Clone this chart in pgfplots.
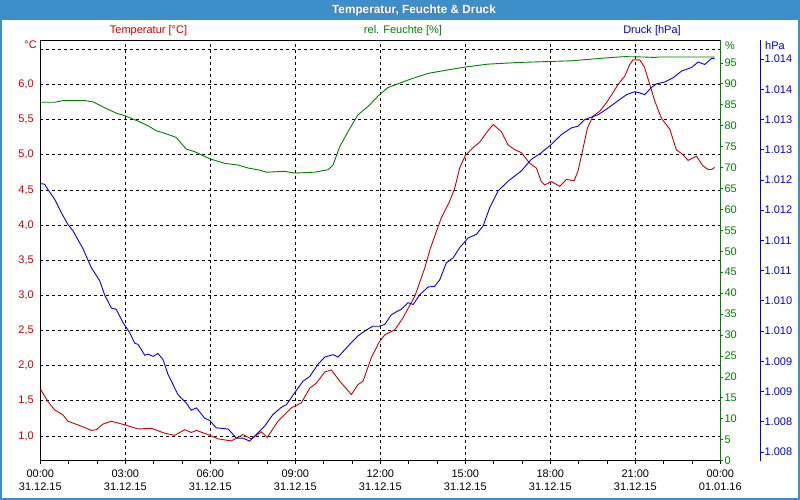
\documentclass[border=0pt]{standalone}
\usepackage{pgfplots}
\pgfplotsset{compat=1.18}
\usepackage{fontspec}
\setmainfont{Liberation Sans}
\definecolor{tred}{RGB}{204,0,0}
\definecolor{hgreen}{RGB}{0,128,0}
\definecolor{pblue}{RGB}{0,0,230}
\definecolor{barblue}{RGB}{60,143,200}
\begin{document}
\begin{tikzpicture}[x=1pt,y=1pt]
\useasboundingbox (0,0) rectangle (800,500);
\fill[white] (0,0) rectangle (800,500);
\fill[barblue] (0,480) rectangle (800,500);
\draw[barblue,line width=2pt] (1,1) rectangle (799,499);
\node[text=black!60,font=\fontsize{11.8}{13}\selectfont\bfseries] at (414.7,489.3) {Temperatur, Feuchte \& Druck};
\node[text=white,font=\fontsize{11.8}{13}\selectfont\bfseries] at (414,490) {Temperatur, Feuchte \& Druck};
\node[text=tred,font=\fontsize{11}{12}\selectfont] at (148.5,469) {Temperatur [°C]};
\node[text=hgreen,font=\fontsize{11}{12}\selectfont] at (403,469) {rel. Feuchte [\%]};
\node[text=pblue,font=\fontsize{11}{12}\selectfont] at (652,469) {Druck [hPa]};
\node[text=tred,font=\fontsize{11}{12}\selectfont,anchor=east,inner sep=0pt] at (37,455) {°C};
\node[text=hgreen,font=\fontsize{11}{12}\selectfont,anchor=west,inner sep=0pt] at (725,454) {\%};
\node[text=pblue,font=\fontsize{11}{12}\selectfont,anchor=west,inner sep=0pt] at (765,454) {hPa};

\pgfplotsset{base/.style={
  at={(40.3pt,39.3pt)}, anchor=south west, scale only axis,
  width=680pt, height=420.4pt, xmin=0, xmax=24,
  font=\fontsize{11}{12.5}\selectfont,
  /pgf/number format/assume math mode=true,
}}

% temperature axis
\begin{axis}[base, ymin=0.649, ymax=6.628,
  axis line style={black,line width=1pt},
  xtick={0,3,...,24}, minor xtick={1,2,4,5,7,8,10,11,13,14,16,17,19,20,22,23},
  xtick pos=bottom, ytick pos=left,
  tick align=outside, major tick length=3pt, minor tick length=3pt,
  every tick/.style={black,line width=0.8pt},
  xticklabels={{00:00\\31.12.15},{03:00\\31.12.15},{06:00\\31.12.15},{09:00\\31.12.15},{12:00\\31.12.15},{15:00\\31.12.15},{18:00\\31.12.15},{21:00\\31.12.15},{00:00\\01.01.16}},
  xticklabel style={align=center, text=black, yshift=-3pt},
  ytick={1,1.5,...,6.5},
  yticklabels={{1,0},{1,5},{2,0},{2,5},{3,0},{3,5},{4,0},{4,5},{5,0},{5,5},{6,0},{}},
  yticklabel style={text=tred},
  ytick style={draw=none},
  grid=major,
  major grid style={black,line width=0.8pt,dash pattern=on 3pt off 3pt},
]
\addplot[tred,line width=0.9pt] table {
0 1.67
0.27 1.49
0.51 1.37
0.80 1.30
0.98 1.21
1.45 1.14
1.80 1.08
1.98 1.09
2.21 1.17
2.51 1.21
2.98 1.16
3.45 1.10
3.92 1.11
4.39 1.04
4.74 1.01
5.10 1.09
5.33 1.05
5.51 1.08
5.92 1.02
6.27 0.96
6.74 0.93
7.15 1.02
7.45 0.96
7.80 1.06
8.01 0.98
8.39 1.21
8.86 1.40
9.21 1.47
9.51 1.68
9.74 1.75
10.04 1.91
10.27 1.94
10.57 1.78
10.98 1.59
11.21 1.73
11.39 1.78
11.68 2.11
11.95 2.33
12.16 2.44
12.51 2.51
12.80 2.68
13.22 2.99
13.57 3.39
13.76 3.66
14.15 4.10
14.45 4.34
14.63 4.53
14.80 4.81
15.00 4.99
15.27 5.10
15.51 5.18
15.74 5.31
15.98 5.43
16.27 5.33
16.51 5.14
16.75 5.07
16.98 5.03
17.27 4.88
17.51 4.81
17.68 4.62
17.80 4.57
18.04 4.62
18.33 4.55
18.57 4.65
18.84 4.63
18.98 4.77
19.16 5.10
19.31 5.38
19.51 5.55
19.75 5.62
19.98 5.74
20.16 5.85
20.39 6.00
20.63 6.12
20.80 6.28
20.92 6.35
21.16 6.35
21.33 6.24
21.51 6.00
21.69 5.76
21.92 5.52
22.22 5.36
22.45 5.07
22.69 5.00
22.86 4.92
23.16 4.98
23.39 4.84
23.57 4.79
23.69 4.79
23.80 4.82
};
\end{axis}

% humidity axis
\begin{axis}[base, ymin=0, ymax=100.4,
  axis x line=none, axis y line*=right,
  y axis line style={hgreen,line width=1pt},
  ytick={0,5,...,95}, tick align=outside, major tick length=3pt,
  ytick style={hgreen,line width=0.8pt},
  yticklabel style={text=hgreen, inner sep=1pt},
]
\addplot[hgreen,line width=0.9pt] table {
0 85.6
0.51 85.6
0.80 86.0
1.57 86.0
1.86 85.7
2.27 84.3
2.68 83.0
2.98 82.4
3.45 81.1
3.80 80.0
4.09 78.8
4.39 78.2
4.80 77.2
5.15 74.4
5.45 73.8
5.98 72.1
6.51 71.0
6.98 70.6
7.33 69.9
7.74 69.4
7.98 68.9
8.63 69.1
8.98 68.7
9.69 68.9
10.16 69.5
10.33 70.6
10.57 75.0
10.86 78.6
11.21 82.6
11.57 84.6
11.95 87.3
12.27 89.1
12.62 90.0
13.10 91.2
13.69 92.5
14.27 93.2
14.98 94.0
15.80 94.7
16.86 95.1
17.80 95.3
18.74 95.5
19.45 95.9
20.16 96.3
20.63 96.5
21.33 96.4
21.69 96.3
21.81 96.4
23.80 96.4
};
\end{axis}

% pressure data
\begin{axis}[base, ymin=1007.356, ymax=1014.31,
  axis lines=none, ticks=none]
\addplot[pblue,line width=0.9pt] table {
0 1011.94
0.15 1011.93
0.27 1011.84
0.51 1011.68
0.74 1011.46
0.98 1011.26
1.15 1011.16
1.51 1010.86
1.80 1010.55
2.10 1010.33
2.27 1010.10
2.51 1009.88
2.68 1009.86
2.92 1009.64
3.16 1009.47
3.33 1009.30
3.45 1009.28
3.69 1009.10
3.80 1009.12
3.98 1009.08
4.15 1009.13
4.33 1009.03
4.51 1008.78
4.86 1008.45
5.15 1008.31
5.33 1008.19
5.51 1008.23
5.80 1008.06
5.98 1008.02
6.21 1007.90
6.63 1007.88
6.92 1007.73
7.15 1007.73
7.39 1007.68
7.62 1007.79
7.92 1007.93
8.21 1008.12
8.51 1008.24
8.68 1008.28
8.98 1008.48
9.27 1008.67
9.51 1008.75
9.80 1008.95
10.04 1009.07
10.33 1009.11
10.51 1009.07
10.86 1009.25
11.21 1009.42
11.51 1009.52
11.74 1009.58
11.95 1009.58
12.16 1009.61
12.39 1009.77
12.57 1009.82
12.74 1009.86
12.98 1009.97
13.16 1009.94
13.39 1010.10
13.69 1010.23
13.92 1010.24
14.10 1010.35
14.33 1010.63
14.57 1010.71
14.80 1010.88
15.10 1011.04
15.39 1011.10
15.63 1011.24
15.86 1011.54
16.16 1011.82
16.51 1011.98
16.98 1012.15
17.33 1012.34
17.68 1012.45
18.04 1012.59
18.39 1012.75
18.74 1012.86
18.98 1012.89
19.22 1013.00
19.69 1013.08
19.98 1013.17
20.39 1013.31
20.69 1013.41
20.98 1013.46
21.16 1013.44
21.33 1013.41
21.57 1013.53
21.75 1013.59
22.04 1013.62
22.33 1013.69
22.63 1013.80
22.98 1013.86
23.22 1013.95
23.45 1013.91
23.69 1014.01
23.80 1014.01
};
\end{axis}

% pressure scale
\begin{axis}[at={(759.5pt,39.3pt)}, anchor=south west, scale only axis,
  width=1pt, height=420.4pt, xmin=0, xmax=1,
  ymin=1007.356, ymax=1014.31,
  font=\fontsize{11}{12.5}\selectfont,
  axis x line=none, axis y line*=right,
  y axis line style={pblue,line width=1pt},
  ytick={1007.5,1008,...,1014}, tick align=outside, major tick length=3pt,
  ytick style={pblue,line width=0.8pt},
  yticklabels={1.008,1.008,1.009,1.009,1.010,1.010,1.011,1.011,1.012,1.012,1.013,1.013,1.014,1.014},
  yticklabel style={text=pblue, inner sep=1pt},
]
\end{axis}
\end{tikzpicture}
\end{document}
